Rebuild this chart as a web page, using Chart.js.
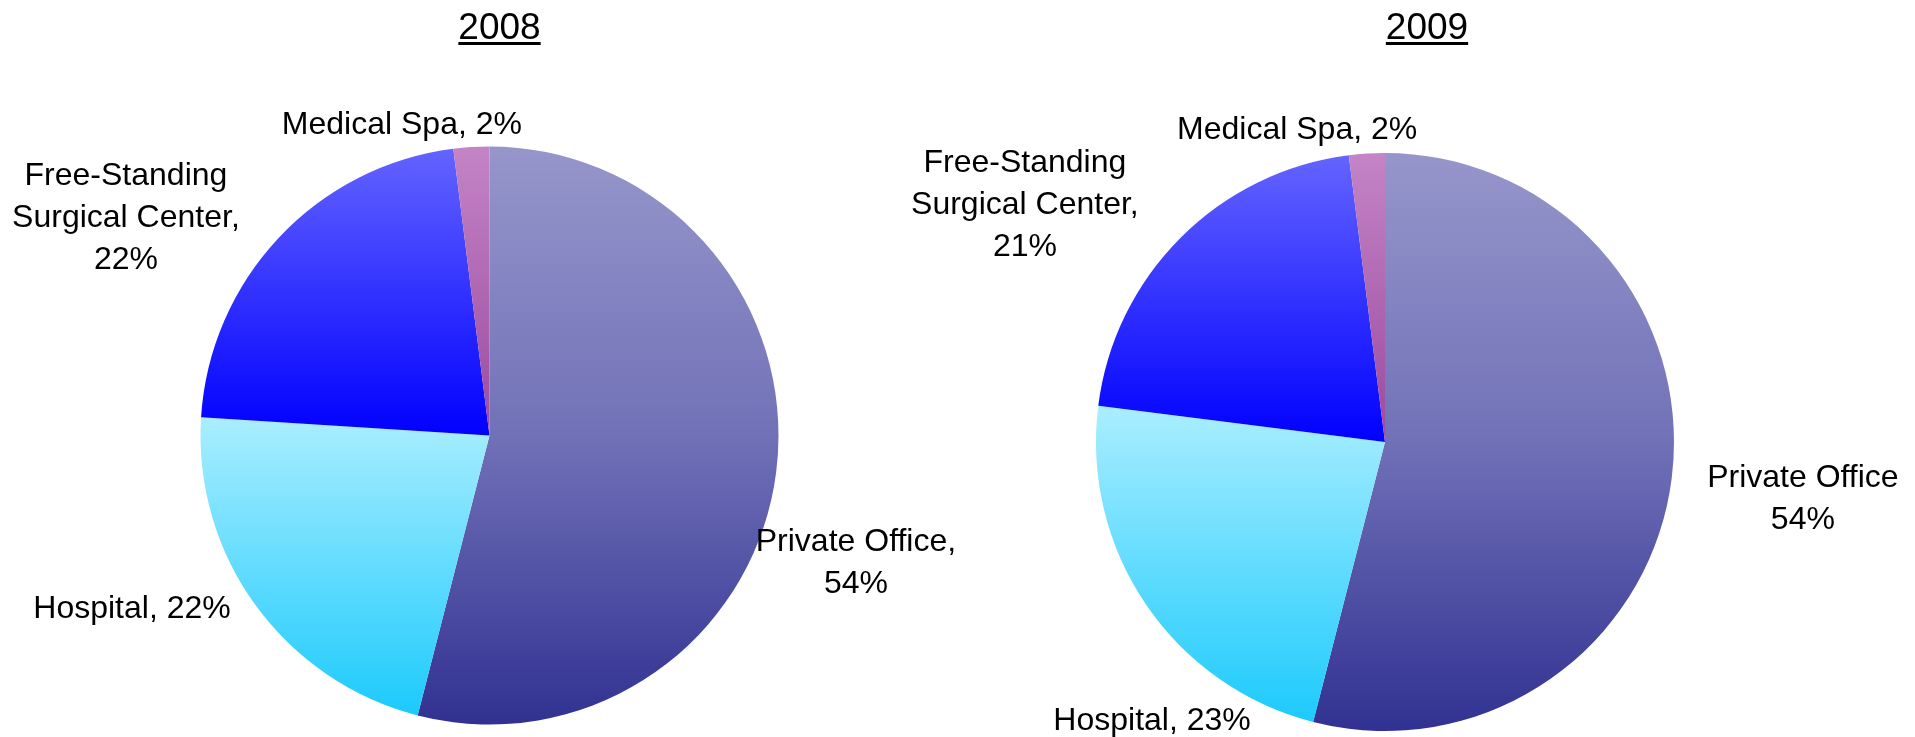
<!DOCTYPE html>
<html>
<head>
<meta charset="utf-8">
<script src="https://cdn.jsdelivr.net/npm/chart.js@4"></script>
<style>
  html, body { margin: 0; padding: 0; background: #ffffff; }
  body { width: 1915px; height: 737px; position: relative; overflow: hidden; }
  canvas { position: absolute; top: 0; left: 0; }
</style>
</head>
<body>
<canvas id="c1" width="1915" height="737"></canvas>
<canvas id="c2" width="1915" height="737"></canvas>
<script>
// ---- data ----
const categories = ["Private Office", "Hospital", "Free-Standing Surgical Center", "Medical Spa"];
const values2008 = [54, 22, 22, 2];
const values2009 = [54, 23, 21, 2];
const titles = ["2008", "2009"];

// ---- styles ----
const gradientStops = [
  [[0, '#9696CB'], [0.5, '#7171B8'], [1, '#313192']],   // Private Office
  [[0, '#AAEEFF'], [1, '#1CCAFC']],                      // Hospital
  [[0, '#6464FF'], [1, '#0000FF']],                      // Free-Standing
  [[0, '#C484C6'], [1, '#9A4A9E']]                       // Medical Spa
];

function labelLines(values, commaAfterPrivate) {
  return [
    [categories[0] + (commaAfterPrivate ? ',' : ''), values[0] + '%'],
    [categories[1] + ', ' + values[1] + '%'],
    ['Free-Standing', 'Surgical Center,', values[2] + '%'],
    [categories[3] + ', ' + values[3] + '%']
  ];
}

// label block centres relative to pie centre, in units of radius
const labelPos2008 = [[1.268, 0.433], [-1.237, 0.593], [-1.258, -0.761], [-0.303, -1.083]];
const labelPos2009 = [[1.446, 0.187], [-0.806, 0.958], [-1.246, -0.827], [-0.304, -1.087]];

const FONT = '"Liberation Sans", Arial, sans-serif';

function sectorYRange(cx, cy, r, a0, a1) {
  const ys = [cy, cy + r * Math.sin(a0), cy + r * Math.sin(a1)];
  const norm = a => { let x = a % (2 * Math.PI); if (x < 0) x += 2 * Math.PI; return x; };
  const contains = a => {
    const s = norm(a0), span = a1 - a0;
    const d = norm(a - s);
    return d <= span;
  };
  if (contains(Math.PI / 2)) ys.push(cy + r);
  if (contains(-Math.PI / 2)) ys.push(cy - r);
  return [Math.min(...ys), Math.max(...ys)];
}

function makeBg(values) {
  return function (c) {
    const chart = c.chart;
    const area = chart.chartArea;
    const i = c.dataIndex;
    if (!area) return gradientStops[i][0][1];
    const cx = (area.left + area.right) / 2;
    const cy = (area.top + area.bottom) / 2;
    const r = Math.min(area.right - area.left, area.bottom - area.top) / 2;
    const total = values.reduce((a, b) => a + b, 0);
    let a0 = -Math.PI / 2;
    for (let k = 0; k < i; k++) a0 += values[k] / total * 2 * Math.PI;
    const a1 = a0 + values[i] / total * 2 * Math.PI;
    const [y0, y1] = sectorYRange(cx, cy, r, a0, a1);
    const g = chart.ctx.createLinearGradient(0, y0, 0, y1);
    gradientStops[i].forEach(([o, col]) => g.addColorStop(o, col));
    return g;
  };
}

const labelPlugin = {
  id: 'pieLabels',
  afterDraw(chart, args, opts) {
    const arc = chart.getDatasetMeta(0).data[0];
    if (!arc) return;
    const cx = arc.x, cy = arc.y, r = arc.outerRadius;
    const ctx = chart.ctx;
    ctx.save();
    ctx.fillStyle = '#000000';
    ctx.textAlign = 'center';
    ctx.textBaseline = 'alphabetic';
    ctx.font = '32px ' + FONT;
    const lh = 42;
    opts.lines.forEach((lines, i) => {
      const bx = cx + opts.pos[i][0] * r;
      const by = cy + opts.pos[i][1] * r;
      const n = lines.length;
      lines.forEach((t, j) => {
        const capCenter = by + (j - (n - 1) / 2) * lh;
        ctx.fillText(t, bx, capCenter + 11.5);
      });
    });
    ctx.font = '37px ' + FONT;
    const w = ctx.measureText(opts.title).width;
    ctx.fillText(opts.title, opts.titleX, 39);
    ctx.fillRect(opts.titleX - w / 2, 42, w, 3);
    ctx.restore();
  }
};

function makeChart(id, values, pos, lines, title, titleX, padding) {
  return new Chart(document.getElementById(id), {
    type: 'pie',
    data: {
      labels: categories,
      datasets: [{
        data: values,
        backgroundColor: makeBg(values),
        borderWidth: 0,
        hoverOffset: 0
      }]
    },
    options: {
      responsive: false,
      animation: false,
      events: [],
      layout: { padding: padding },
      plugins: {
        legend: { display: false },
        title: { display: false },
        tooltip: { enabled: false },
        pieLabels: { pos: pos, lines: lines, title: title, titleX: titleX }
      }
    },
    plugins: [labelPlugin]
  });
}

makeChart('c1', values2008, labelPos2008, labelLines(values2008, true), titles[0], 499.5,
  { left: 200.5, top: 146.5, right: 1136.5, bottom: 12.5 });
makeChart('c2', values2009, labelPos2009, labelLines(values2009, false), titles[1], 1427,
  { left: 1096, top: 153, right: 241, bottom: 6 });
</script>
</body>
</html>
